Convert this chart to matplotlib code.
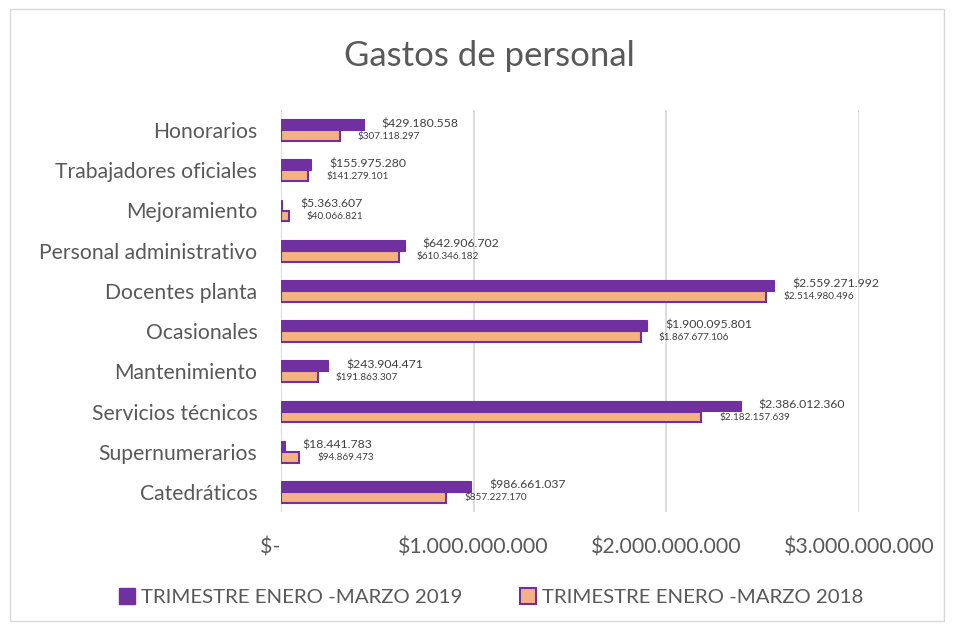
import numpy as np
import matplotlib
matplotlib.use("Agg")
import matplotlib.pyplot as plt
from matplotlib.patches import Rectangle, Patch

plt.rcParams['font.family'] = ['Lato', 'DejaVu Sans']

categorias = ["Honorarios", "Trabajadores oficiales", "Mejoramiento",
              "Personal administrativo", "Docentes planta", "Ocasionales",
              "Mantenimiento", "Servicios técnicos", "Supernumerarios",
              "Catedráticos"]
gastos_2019 = [429180558, 155975280, 5363607, 642906702, 2559271992,
               1900095801, 243904471, 2386012360, 18441783, 986661037]
gastos_2018 = [307118297, 141279101, 40066821, 610346182, 2514980496,
               1867677106, 191863307, 2182157639, 94869473, 857227170]
ticks = [0, 1e9, 2e9, 3e9]
tick_labels = ["$-    ", "$1.000.000.000", "$2.000.000.000", "$3.000.000.000"]

morado = "#7030A0"
naranja = "#F4B183"
gris = "#595959"


def pesos(v):
    return "$" + f"{v:,}".replace(",", ".")


fig = plt.figure(figsize=(9.54, 6.27), dpi=100)
fig.patches.append(Rectangle((0.011, 0.01), 0.978, 0.975, transform=fig.transFigure,
                             fill=False, edgecolor="#D9D9D9", linewidth=1))
ax = fig.add_axes([0.2945, 0.1834, 0.606, 0.6412])

y = np.arange(len(categorias))
h = 0.27
ax.barh(y - 0.137, gastos_2019, height=h, color=morado, edgecolor=morado, linewidth=0.8, zorder=3)
ax.barh(y + 0.137, gastos_2018, height=h, color=naranja, edgecolor=morado, linewidth=1.5, zorder=3)

off = 0.93e8
for i in range(len(categorias)):
    ax.text(gastos_2019[i] + off, y[i] - 0.16, pesos(gastos_2019[i]), fontsize=8.8,
            color="#404040", va="center", ha="left")
    ax.text(gastos_2018[i] + off, y[i] + 0.15, pesos(gastos_2018[i]), fontsize=7.2,
            color="#404040", va="center", ha="left")

ax.set_xlim(0, 3e9)
ax.set_ylim(len(categorias) - 0.5, -0.5)
ax.set_yticks(y)
ax.set_yticklabels(categorias, fontsize=15.2, color=gris)
ax.set_xticks(ticks)
ax.set_xticklabels(tick_labels, fontsize=15.3, color=gris)
ax.tick_params(axis="both", length=0)
ax.tick_params(axis="y", pad=17)
ax.tick_params(axis="x", pad=18)
ax.grid(axis="x", color="#D9D9D9", linewidth=1.3, zorder=0)
for s in ax.spines.values():
    s.set_visible(False)

fig.text(0.513, 0.91, "Gastos de personal", fontsize=25, color=gris, ha="center", va="center")

handles = [Patch(facecolor=morado, edgecolor=morado),
           Patch(facecolor=naranja, edgecolor=morado, linewidth=1.5)]
fig.legend(handles, ["TRIMESTRE ENERO -MARZO 2019", "TRIMESTRE ENERO -MARZO 2018"],
           loc="center", bbox_to_anchor=(0.515, 0.048), ncol=2, frameon=False,
           fontsize=14.7, labelcolor=gris, handlelength=0.8, handleheight=0.8,
           handletextpad=0.3, columnspacing=2.8)

fig.savefig("out.png", dpi=100)
